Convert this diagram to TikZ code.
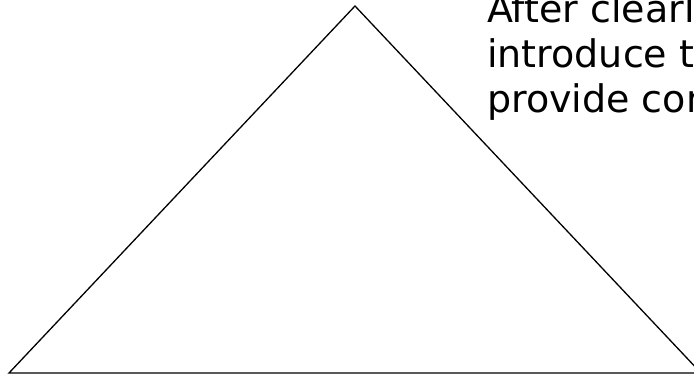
\documentclass[tikz,border=0pt]{standalone}
\usepackage{fontspec}
\setmainfont{DejaVu Sans}
\begin{document}
\begin{tikzpicture}[x=1pt,y=1pt,
  tri/.style={draw=black,line width=1.3pt,line join=miter},
  txt/.style={anchor=base west,inner sep=0pt,font=\fontsize{38}{45}\selectfont}]
\useasboundingbox (0,0) rectangle (694,378);
\clip (0,0) rectangle (694,378);
\coordinate (L) at (9,5);
\coordinate (T) at (355,372);
\coordinate (R) at (701,5);
\draw[tri] (L) -- (T) -- (R) -- cycle;
\node[txt] (t1) at (487,355) {After clearl};
\node[txt] (t2) at (487,310) {introduce t};
\node[txt] (t3) at (487,265) {provide con};
\end{tikzpicture}
\end{document}
